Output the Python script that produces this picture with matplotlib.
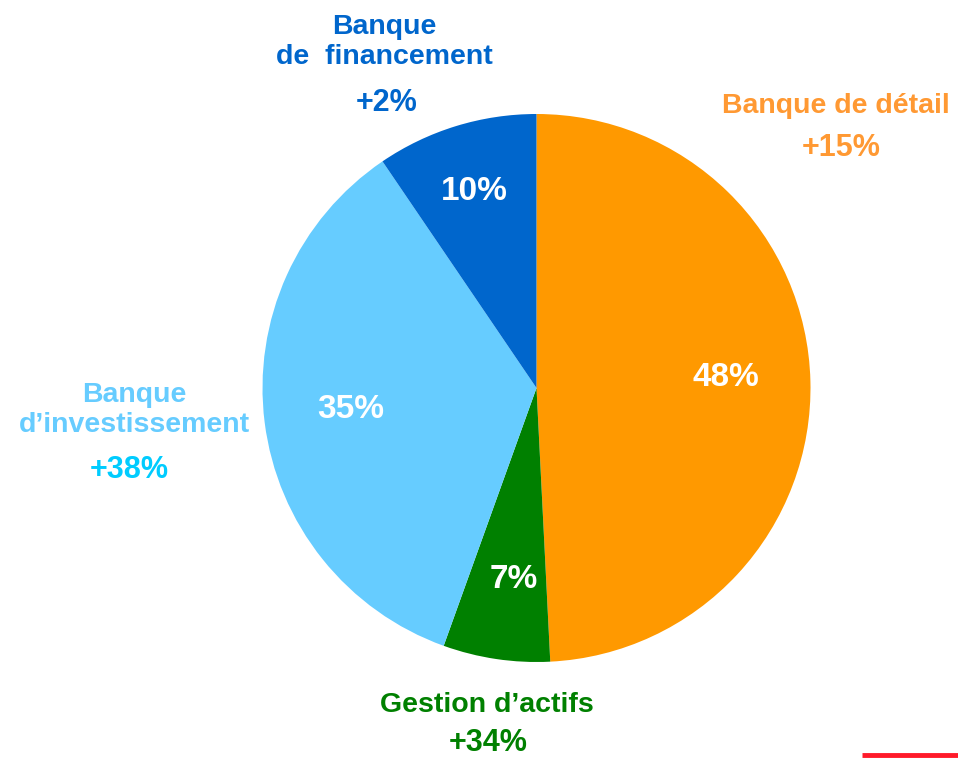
import matplotlib.pyplot as plt
from matplotlib.lines import Line2D

# Segment shares and printed labels
segments = ['Banque de détail', 'Gestion d\u2019actifs', 'Banque\nd\u2019investissement', 'Banque\nde  financement']
shares = [49.2, 6.3, 35.0, 9.5]
share_labels = ['48%', '7%', '35%', '10%']
growth_labels = ['+15%', '+34%', '+38%', '+2%']

wedge_colors = ['#FF9900', '#008000', '#66CCFF', '#0066CC']
name_colors = ['#FF9933', '#008000', '#66CCFF', '#0066CC']
growth_colors = ['#FF9933', '#008000', '#00CCFF', '#0066CC']

W, H = 958, 758
plt.rcParams['font.family'] = ['Liberation Sans', 'DejaVu Sans']

fig = plt.figure(figsize=(W / 100, H / 100), dpi=100)
ax = fig.add_axes([0, 0, 1, 1])

cx, cy, r = 536.5, H - 388, 274
wedges, texts, autotexts = ax.pie(shares, colors=wedge_colors, startangle=90, counterclock=False,
                                  center=(cx, cy), radius=r, labels=None,
                                  autopct='%1.0f%%', pctdistance=0.7,
                                  wedgeprops=dict(linewidth=0))

# in-slice labels, positions in pixels from the top-left
share_pos = [(726, 378), (514, 579), (351, 410), (474, 192)]
for t, lab, (x, y) in zip(autotexts, share_labels, share_pos):
    t.set_text(lab)
    t.set_position((x, H - y))
    t.set_color('white')
    t.set_fontsize(24)
    t.set_fontweight('bold')

# Segment names and growth
name_pos = [(836, 106), (487, 705), (134, 410), (384, 42)]
growth_pos = [(841, 148), (488, 743), (129, 470), (387, 103)]
for i in range(len(segments)):
    x, y = name_pos[i]
    ax.text(x, H - y, segments[i], color=name_colors[i], fontsize=20.5, fontweight='bold',
            ha='center', va='center', linespacing=1.2)
    x, y = growth_pos[i]
    ax.text(x, H - y, growth_labels[i], color=growth_colors[i], fontsize=22, fontweight='bold',
            ha='center', va='center')

# red rule bottom right
ax.add_line(Line2D([862, W], [H - 755, H - 755], color='#FF1A2A', linewidth=3.5, solid_capstyle='butt'))

ax.set_xlim(0, W)
ax.set_ylim(0, H)
ax.set_aspect('equal')
ax.axis('off')

plt.savefig('out.png', dpi=100)
